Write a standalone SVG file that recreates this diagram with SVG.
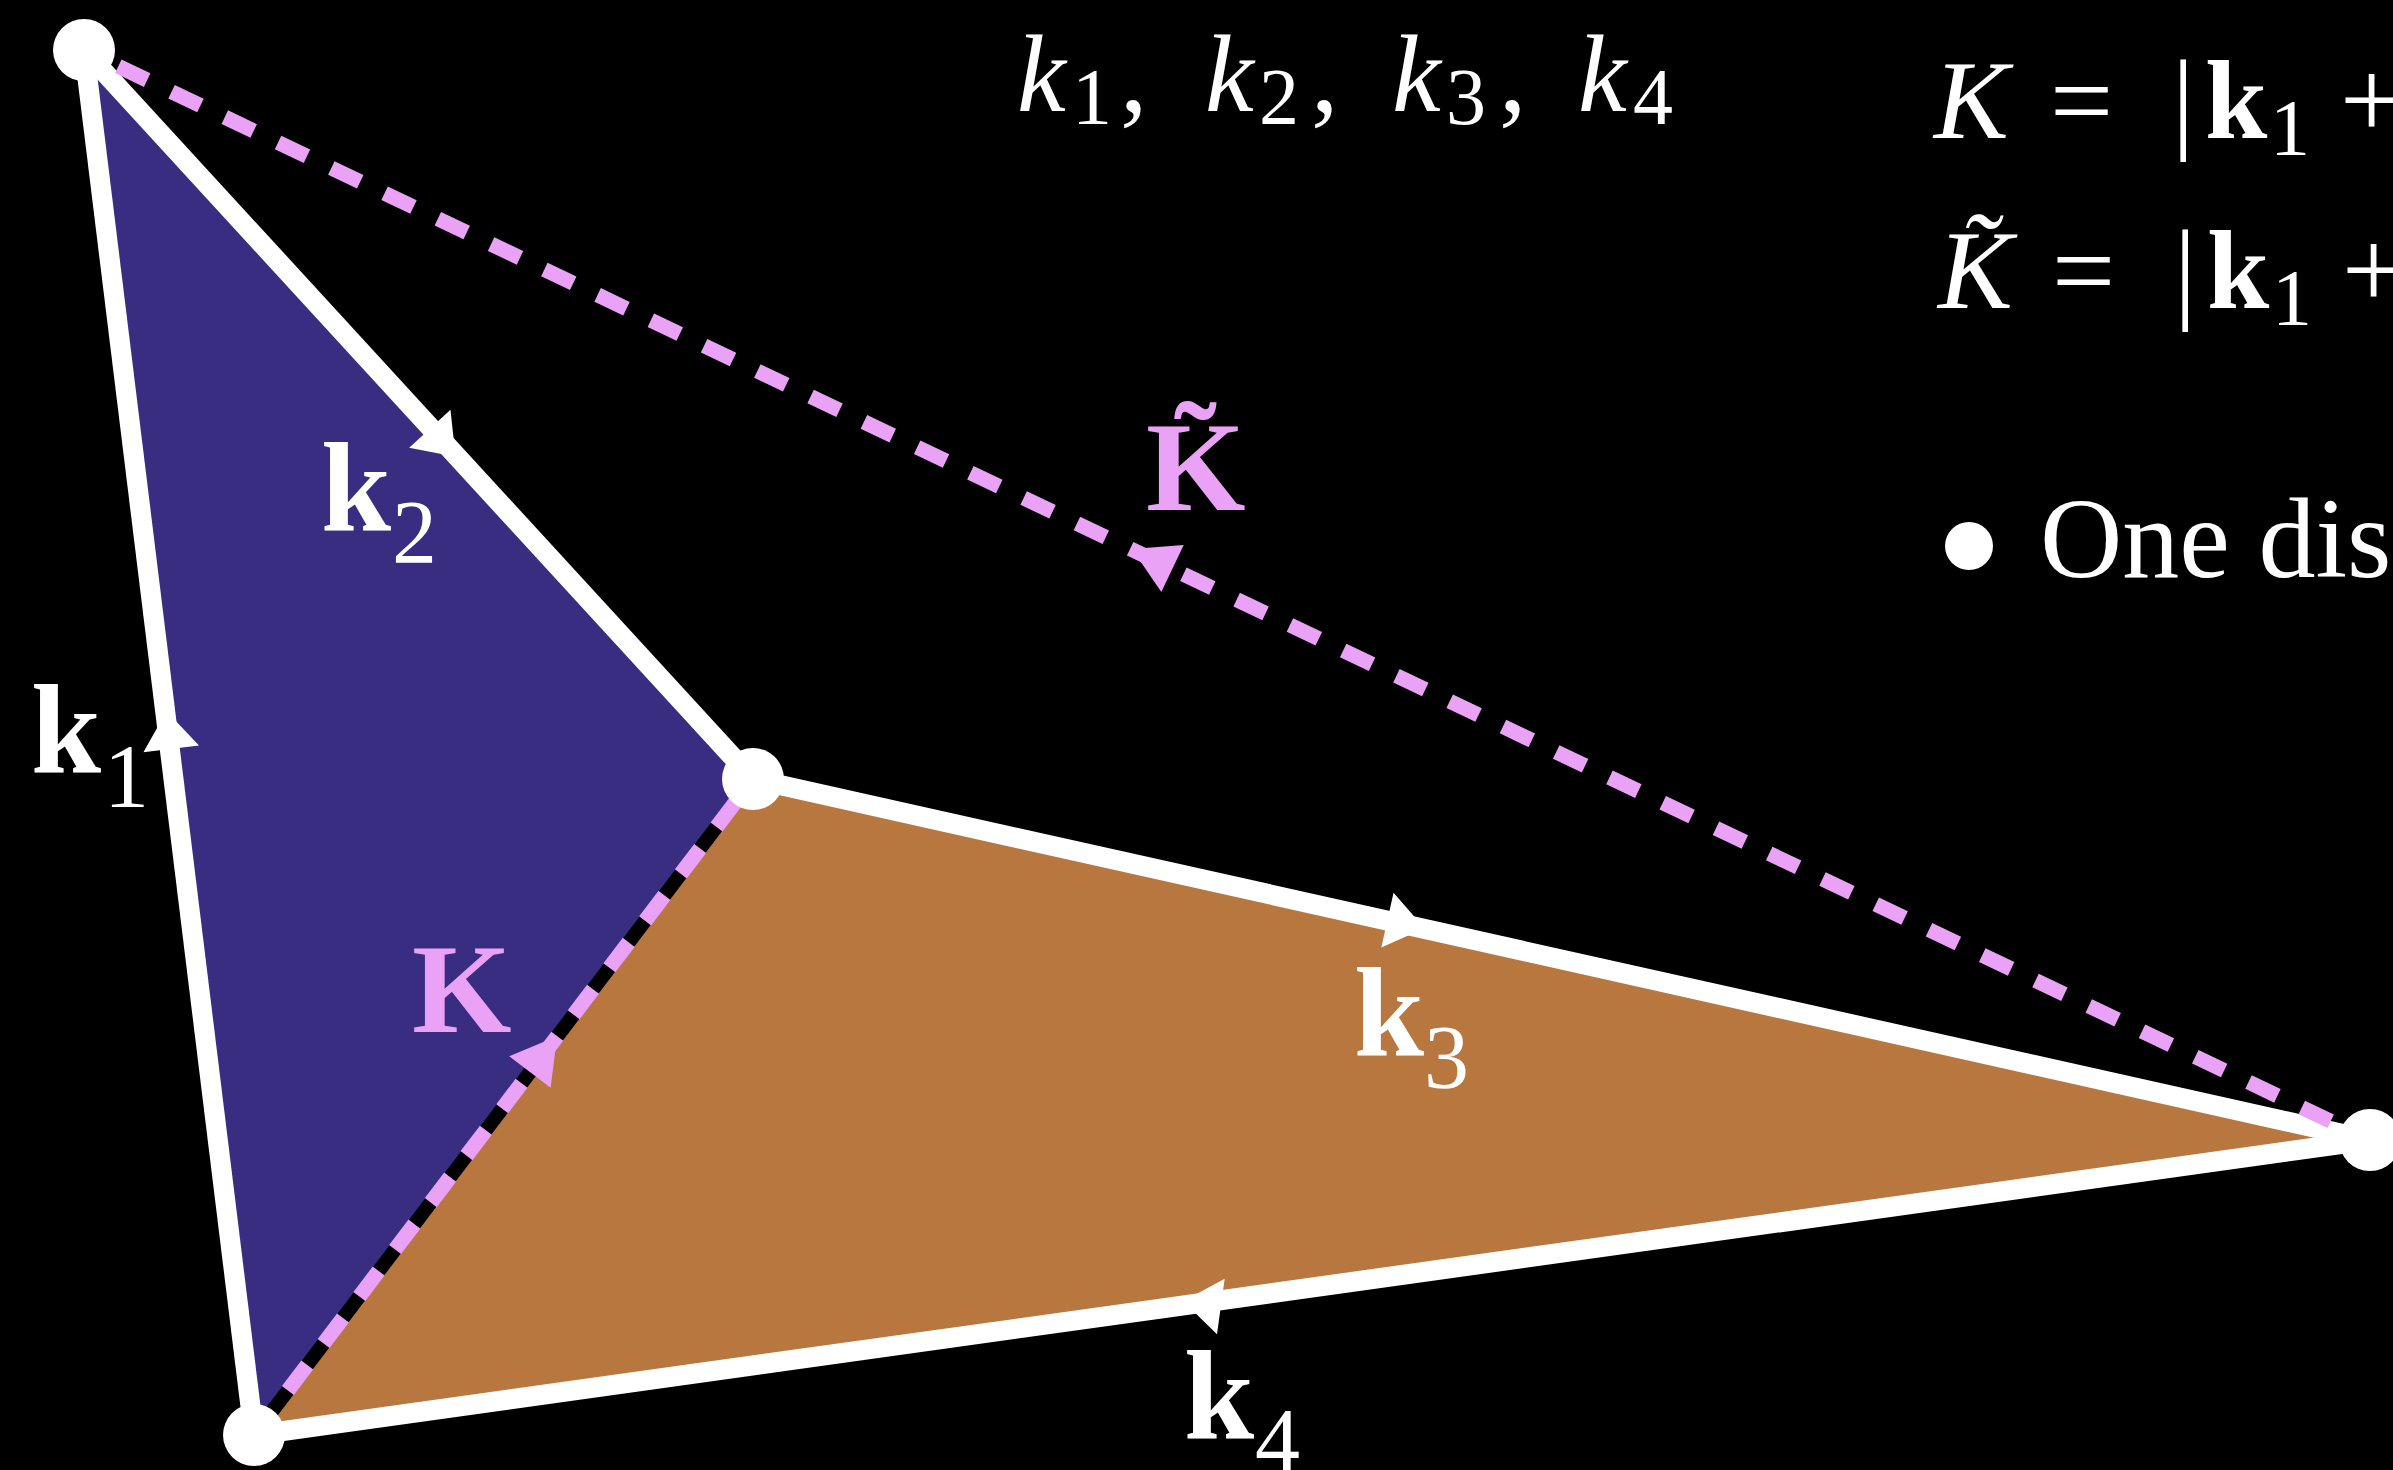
<svg xmlns="http://www.w3.org/2000/svg" width="2393" height="1470" viewBox="0 0 2393 1470">
<style>
.edge{stroke:#ffffff;stroke-width:20;stroke-linecap:butt;fill:none}
.dash{stroke:#e9a2f6;stroke-width:15;stroke-dasharray:32 27;fill:none}
.under{stroke:#000000;stroke-width:14;fill:none}
.node{fill:#ffffff}
.lbl{font-family:"Liberation Serif","DejaVu Serif",serif;fill:#ffffff}
.b{font-weight:bold}
.it{font-style:italic}
.pk{fill:#e9a2f6}
</style>
<defs>
<path id="arrW" d="M20,0 L-18,-28 L-18,28 Z" fill="#ffffff"/>
<path id="arrP" d="M30,0 L-15,-26 L-15,26 Z" fill="#e9a2f6"/>
</defs>
<rect x="0" y="0" width="2393" height="1470" fill="#000000"/>
<g id="faces">
<polygon points="84,50 753,779 254,1435" fill="#382d80"/>
<polygon points="254,1435 753,779 2370,1140" fill="#b8773f"/>
</g>
<g id="connectors">
<line class="under" x1="254" y1="1435" x2="753" y2="779"/>
<line class="dash" x1="254" y1="1435" x2="753" y2="779" stroke-dashoffset="3"/>
<line class="edge" x1="254" y1="1435" x2="84" y2="50"/>
<line class="edge" x1="84" y1="50" x2="753" y2="779"/>
<line class="edge" x1="753" y1="779" x2="2370" y2="1140"/>
<line class="edge" x1="2370" y1="1140" x2="254" y2="1435"/>
<line class="dash" x1="84" y1="50" x2="2370" y2="1140" stroke-dashoffset="21"/>
<use href="#arrW" transform="translate(169,731) rotate(-97)"/>
<use href="#arrW" transform="translate(442,442) rotate(47.5)"/>
<use href="#arrW" transform="translate(1405,924) rotate(12.6)"/>
<use href="#arrW" transform="translate(1203,1304) rotate(187.9)"/>
<use href="#arrP" transform="translate(1159,562) rotate(205.5)"/>
<use href="#arrP" transform="translate(539,1060) rotate(-52.7)"/>
</g>
<g id="edge-labels">
<text class="lbl" x="31" y="772"><tspan class="b" font-size="126">k</tspan><tspan x="104" y="807" font-size="90">1</tspan></text>
<text class="lbl" x="321" y="530"><tspan class="b" font-size="126">k</tspan><tspan x="392" y="563" font-size="90">2</tspan></text>
<text class="lbl" x="1354" y="1055"><tspan class="b" font-size="126">k</tspan><tspan x="1424" y="1088" font-size="90">3</tspan></text>
<text class="lbl" x="1184" y="1438"><tspan class="b" font-size="126">k</tspan><tspan x="1255" y="1471" font-size="90">4</tspan></text>
<text class="lbl b pk" x="412" y="1032" font-size="128">K</text>
<text class="lbl b pk" x="1146" y="510" font-size="128">K̃</text>
</g>
<g id="node-1"><circle class="node" cx="84" cy="50" r="31"/></g>
<g id="node-2"><circle class="node" cx="753" cy="779" r="31"/></g>
<g id="node-3"><circle class="node" cx="2370" cy="1140" r="31"/></g>
<g id="node-4"><circle class="node" cx="254" cy="1435" r="31"/></g>
<g id="text-top">
<text class="lbl" font-size="110"><tspan class="it" x="1017" y="111">k</tspan><tspan x="1072" y="124" font-size="80">1</tspan><tspan x="1120" y="111">,</tspan><tspan class="it" x="1205" y="111">k</tspan><tspan x="1259" y="124" font-size="80">2</tspan><tspan x="1311" y="111">,</tspan><tspan class="it" x="1392" y="111">k</tspan><tspan x="1446" y="124" font-size="80">3</tspan><tspan x="1499" y="111">,</tspan><tspan class="it" x="1578" y="111">k</tspan><tspan x="1633" y="124" font-size="80">4</tspan></text>
</g>
<g id="text-right">
<text class="lbl" font-size="112"><tspan class="it" x="1934" y="138">K</tspan><tspan x="2050" y="138">=</tspan><tspan x="2172" y="138">|</tspan><tspan class="b" x="2205" y="138">k</tspan><tspan x="2270" y="155" font-size="80">1</tspan><tspan x="2340" y="138">+</tspan></text>
<text class="lbl" font-size="112"><tspan class="it" x="1938" y="308">K̃</tspan><tspan x="2052" y="308">=</tspan><tspan x="2174" y="308">|</tspan><tspan class="b" x="2207" y="308">k</tspan><tspan x="2272" y="325" font-size="80">1</tspan><tspan x="2342" y="308">+</tspan></text>
<circle class="node" cx="1969" cy="546" r="24"/>
<text class="lbl" x="2040" y="577" font-size="114">One dis</text>
</g>
</svg>
